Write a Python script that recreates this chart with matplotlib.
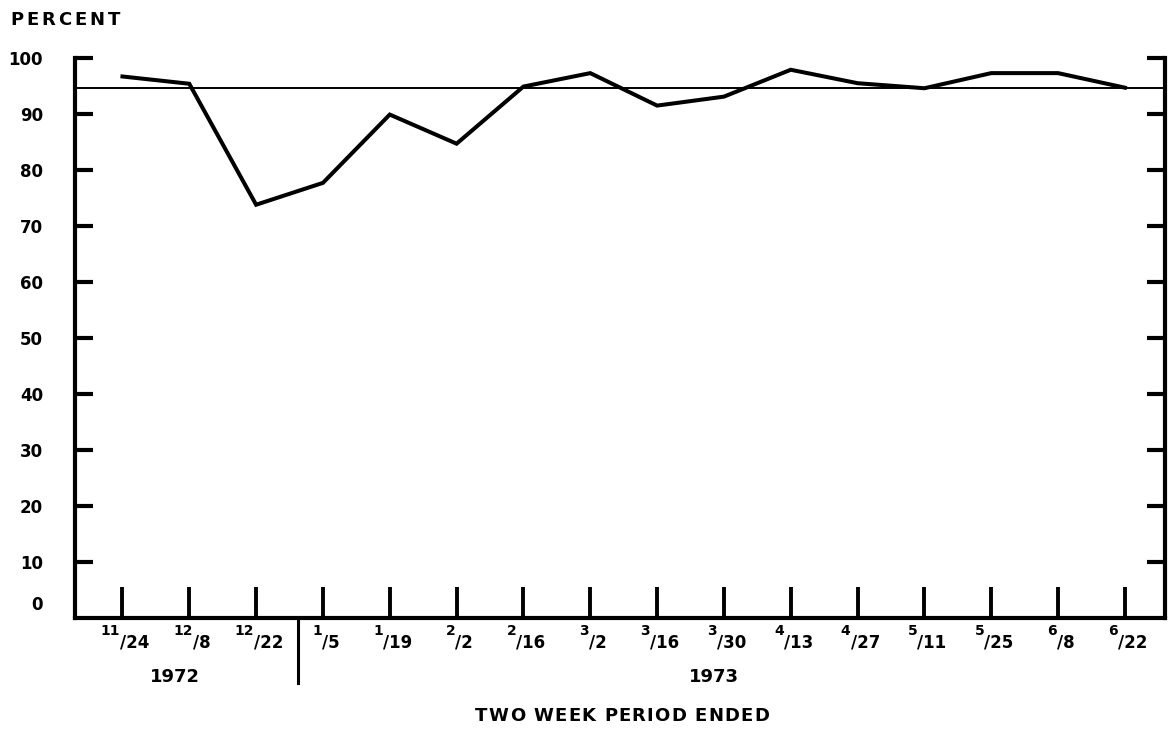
import numpy as np
import matplotlib
matplotlib.use('Agg')
import matplotlib.pyplot as plt
import matplotlib.transforms as mtransforms

W, H = 1172, 734

# two week periods, written as month / day
period_month = ['11', '12', '12', '1', '1', '2', '2', '3', '3', '3', '4', '4', '5', '5', '6', '6']
period_day = ['24', '8', '22', '5', '19', '2', '16', '2', '16', '30', '13', '27', '11', '25', '8', '22']
percent = [96.7, 95.4, 73.8, 77.7, 89.9, 84.7, 94.9, 97.3, 91.5, 93.1, 97.9, 95.5, 94.6, 97.3, 97.3, 94.7]
standard = 94.7

years = ['1972', '1973']
year_pos = [0.78, 8.85]
year_break = 2.62

ytick_vals = [10, 20, 30, 40, 50, 60, 70, 80, 90, 100]

plt.rcParams['font.family'] = ['DejaVu Sans']
plt.rcParams['font.weight'] = 'bold'

fig = plt.figure(figsize=(W / 100, H / 100), dpi=100)
fig.patch.set_facecolor('white')

# axes placed in pixels: left spine x=75, right x=1165, zero at y=618, 5.6 px per percent
ax = fig.add_axes([75 / W, (H - 618) / H, 1090 / W, (618 - 41.2) / H])
ax.set_xlim(-0.71, 15.6)
ax.set_ylim(0, 103)

x = np.arange(len(percent))
ax.plot(x, percent, color='black', lw=2.9, solid_joinstyle='miter', zorder=3)
ax.axhline(standard, color='black', lw=1.4, zorder=2)

for side in ['left', 'right', 'bottom']:
    ax.spines[side].set_linewidth(3)
    ax.spines[side].set_capstyle('projecting')
ax.spines['top'].set_visible(False)
ax.spines['left'].set_bounds(0, 100)
ax.spines['right'].set_bounds(0, 100)

ax.set_yticks(ytick_vals)
ax.set_yticklabels([str(v) for v in ytick_vals])
ax.set_yticks([100], minor=True)
ax.tick_params(axis='y', which='major', direction='in', length=13, width=3,
               left=True, right=True, labelleft=True, labelright=False,
               pad=23, labelsize=12)
ax.tick_params(axis='y', which='minor', direction='in', length=33, width=3,
               left=True, right=True)
ax.annotate('0', xy=(0, 2.3), xycoords=('axes fraction', 'data'),
            xytext=(-23, 0), textcoords='offset points',
            ha='right', va='center', fontsize=12)

ax.set_xticks(x)
ax.tick_params(axis='x', which='major', direction='in', length=22, width=2.8,
               labelbottom=False)
ax.tick_params(axis='x', which='minor', bottom=False)

# stacked-fraction style date labels
fn, fd = 10, 12
for i, (m, d) in enumerate(zip(period_month, period_day)):
    wn = len(m) * 0.696 * fn
    wd = (0.365 + len(d) * 0.696) * fd
    jx = 2 + (wn - wd) / 2
    ax.annotate(m, xy=(i, 0), xycoords=('data', 'axes fraction'),
                xytext=(jx, -12.5), textcoords='offset points',
                ha='right', va='baseline', fontsize=fn)
    ax.annotate('/' + d, xy=(i, 0), xycoords=('data', 'axes fraction'),
                xytext=(jx, -21.5), textcoords='offset points',
                ha='left', va='baseline', fontsize=fd)

for yr, p in zip(years, year_pos):
    ax.annotate(yr, xy=(p, 0), xycoords=('data', 'axes fraction'),
                xytext=(0, -42.5), textcoords='offset points',
                ha='center', va='center', fontsize=13)

blend = mtransforms.blended_transform_factory(ax.transData, ax.transAxes)
ax.plot([year_break, year_break], [0, -0.113], transform=blend,
        color='black', lw=2.2, clip_on=False)


def spaced_text(cx, cy, s, width, size):
    r = fig.canvas.get_renderer()
    ws = []
    for ch in s:
        if ch == ' ':
            ws.append(0.35 * size * fig.dpi / 72)
        else:
            t = fig.text(0, 0, ch, fontsize=size)
            ws.append(t.get_window_extent(r).width)
            t.remove()
    gap = (width - sum(ws)) / (len(s) - 1)
    px = cx - width / 2
    for ch, w in zip(s, ws):
        if ch != ' ':
            fig.text(px / W, 1 - cy / H, ch, fontsize=size, ha='left', va='center')
        px += w + gap


spaced_text(65, 20, 'PERCENT', 110, 13)
spaced_text(622, 716, 'TWO WEEK PERIOD ENDED', 294, 13)

fig.savefig('out.png', dpi=100, facecolor='white')
